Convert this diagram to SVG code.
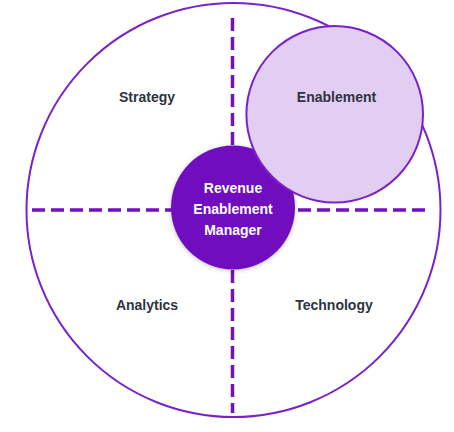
<svg xmlns="http://www.w3.org/2000/svg" width="454" height="432" viewBox="0 0 454 432">
<style>
.dash{stroke:#7012C0;stroke-width:3.5;stroke-dasharray:13 6;fill:none}
.lbl{font-family:"Liberation Sans",Arial,sans-serif;font-weight:bold;font-size:14px;fill:#2E3440;text-anchor:middle}
.ctr{font-family:"Liberation Sans",Arial,sans-serif;font-weight:bold;font-size:14px;fill:#FFFFFF;text-anchor:middle}
</style>
<defs>
<filter id="sh" x="-20%" y="-20%" width="140%" height="140%">
<feDropShadow dx="0" dy="1" stdDeviation="2" flood-color="#000" flood-opacity="0.25"/>
</filter>
</defs>
<rect width="454" height="432" fill="#fff"/>
<g id="outer">
<circle cx="233.5" cy="210" r="207" fill="none" stroke="#7A22C8" stroke-width="2"/>
</g>
<g id="connectors">
<line class="dash" x1="32" y1="210" x2="172" y2="210"/>
<line class="dash" x1="298" y1="210" x2="428" y2="210"/>
<line class="dash" x1="232.5" y1="18" x2="232.5" y2="146"/>
<line class="dash" x1="232.5" y1="270" x2="232.5" y2="413"/>
</g>
<g id="strategy"><text class="lbl" x="147" y="102">Strategy</text></g>
<g id="analytics"><text class="lbl" x="147" y="310">Analytics</text></g>
<g id="technology"><text class="lbl" x="334" y="310">Technology</text></g>
<g id="manager">
<circle cx="233" cy="207.5" r="62" fill="#7011BF" filter="url(#sh)"/>
<text class="ctr" x="233" y="193">Revenue</text>
<text class="ctr" x="233" y="214">Enablement</text>
<text class="ctr" x="233" y="235">Manager</text>
</g>
<g id="enablement">
<circle cx="334.7" cy="114.3" r="88.3" fill="#E2CDF3" stroke="#7A22C8" stroke-width="2"/>
<text class="lbl" x="336.5" y="102">Enablement</text>
</g>
</svg>
